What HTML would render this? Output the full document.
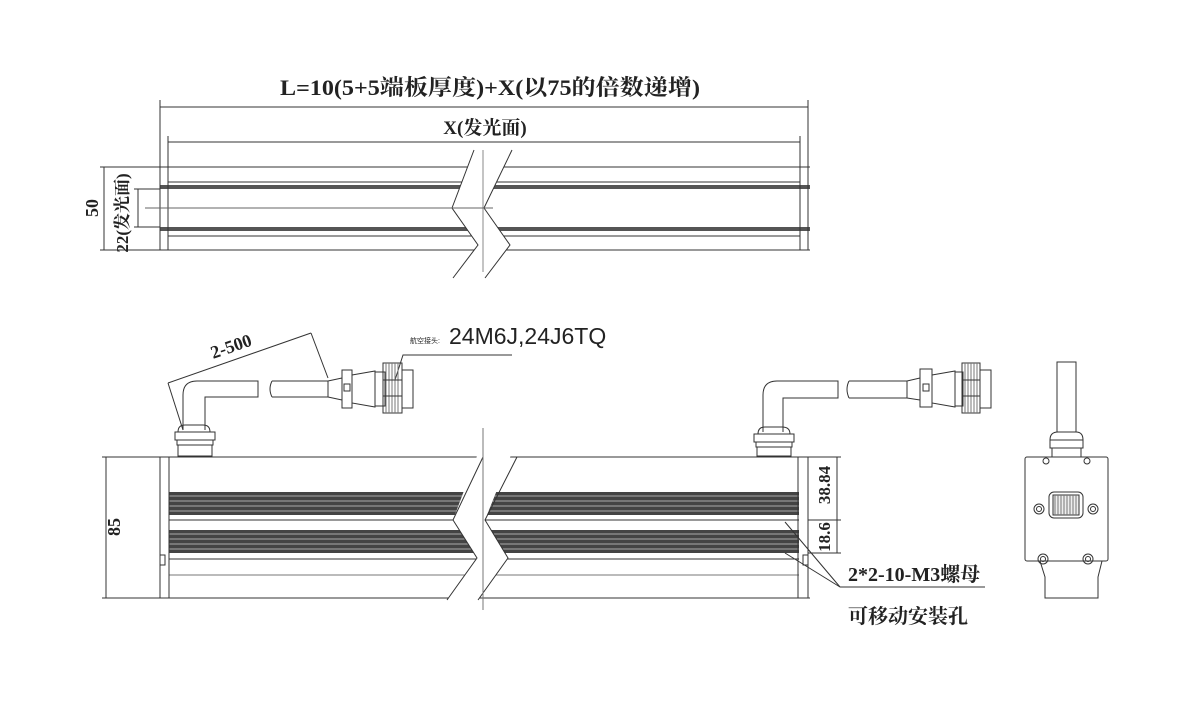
<!DOCTYPE html>
<html><head><meta charset="utf-8"><style>
html,body{margin:0;padding:0;background:#fff;}
svg{display:block;}
.t{font-family:"Liberation Serif","Noto Serif CJK SC",serif;font-weight:bold;fill:#222;}
.s{font-family:"Liberation Sans","Noto Sans CJK SC",sans-serif;fill:#222;}
</style></head><body>
<svg width="1203" height="707" viewBox="0 0 1203 707" xmlns="http://www.w3.org/2000/svg" fill="none" stroke="#333" stroke-width="1">
<defs>
<clipPath id="tl"><polygon points="150,150 474,150 452,208 478,245 453,280 150,280"/></clipPath>
<clipPath id="tr"><polygon points="512,150 820,150 820,280 485,280 510,245 484,208"/></clipPath>
<clipPath id="fl"><polygon points="150,440 483,440 453,520 477,558 447,600 150,600"/></clipPath>
<clipPath id="fr"><polygon points="517,440 820,440 820,610 478,600 508,558 485,520"/></clipPath>
<g id="tb">
<line x1="160" y1="167" x2="810" y2="167"/><line x1="160" y1="250" x2="810" y2="250"/>
<line x1="168" y1="182" x2="800" y2="182"/>
<rect x="160" y="185" width="650" height="4" fill="#555" stroke="none"/>
<rect x="160" y="227" width="650" height="4" fill="#555" stroke="none"/>
<line x1="168" y1="236" x2="800" y2="236"/>
</g>
<g id="fb">
<line x1="160" y1="457" x2="810" y2="457"/><line x1="160" y1="598" x2="810" y2="598"/>
<rect x="169" y="492" width="630" height="23" fill="#444" stroke="none"/>
<path d="M169,496H799M169,501H799M169,506H799M169,511H799" stroke="#aaa"/>
<line x1="169" y1="520" x2="799" y2="520"/>
<rect x="169" y="530" width="630" height="23" fill="#444" stroke="none"/>
<path d="M169,534H799M169,539H799M169,544H799M169,549H799" stroke="#aaa"/>
<line x1="169" y1="559" x2="799" y2="559"/>
<line x1="169" y1="575" x2="799" y2="575" stroke="#777"/>
</g>
</defs>
<!-- TOP VIEW -->
<text class="t" x="490" y="95" font-size="22" text-anchor="middle" textLength="420" lengthAdjust="spacingAndGlyphs" stroke="none">L=10(5+5端板厚度)+X(以75的倍数递增)</text>
<line x1="160" y1="107" x2="808" y2="107"/>
<line x1="160" y1="100" x2="160" y2="168"/><line x1="808" y1="100" x2="808" y2="168"/>
<text class="t" x="485" y="134" font-size="19" text-anchor="middle" stroke="none">X(发光面)</text>
<line x1="168" y1="142" x2="800" y2="142"/>
<line x1="168" y1="136" x2="168" y2="168"/><line x1="800" y1="136" x2="800" y2="168"/>
<g clip-path="url(#tl)"><use href="#tb"/></g>
<g clip-path="url(#tr)"><use href="#tb"/></g>
<line x1="160" y1="167" x2="160" y2="250"/><line x1="168" y1="167" x2="168" y2="250"/>
<line x1="800" y1="167" x2="800" y2="250"/><line x1="808" y1="167" x2="808" y2="250"/>
<polyline points="474,150 452,208 478,245 453,278"/>
<polyline points="512,150 484,208 510,245 485,278"/>
<line x1="483" y1="150" x2="483" y2="272" stroke="#888"/>
<line x1="145" y1="208" x2="493" y2="208" stroke="#666"/>
<line x1="104" y1="167" x2="104" y2="250"/>
<line x1="100" y1="167" x2="160" y2="167"/><line x1="100" y1="250" x2="160" y2="250"/>
<text class="t" x="98" y="208" font-size="18" text-anchor="middle" transform="rotate(-90 98 208)" stroke="none">50</text>
<line x1="138" y1="189" x2="138" y2="227"/>
<line x1="134" y1="189" x2="160" y2="189"/><line x1="134" y1="227" x2="160" y2="227"/>
<text class="t" x="128" y="213" font-size="17" text-anchor="middle" transform="rotate(-90 128 213)" stroke="none">22(发光面)</text>

<!-- FRONT VIEW -->
<text class="s" x="410" y="343" font-size="7" stroke="none">航空接头:</text>
<text class="s" x="449" y="344" font-size="23" stroke="none">24M6J,24J6TQ</text>
<polyline points="395,380 403,355 512,355"/>
<line x1="168" y1="383" x2="311" y2="333"/>
<line x1="168" y1="383" x2="183" y2="430"/><line x1="311" y1="333" x2="328" y2="378"/>
<text class="t" x="233" y="352" font-size="18" text-anchor="middle" transform="rotate(-19 233 352)" stroke="none">2-500</text>
<!-- left cable -->
<path d="M183,430 V395 Q183,381 197,381 H258 V397 H205 V430"/>
<path d="M178,432 Q178,425 185,425 H203 Q210,425 210,432 Z"/>
<rect x="175" y="432" width="40" height="8"/><rect x="177" y="440" width="36" height="5"/><rect x="178" y="445" width="34" height="11"/>
<path d="M272,381 H328 M272,397 H328 M272,381 Q268,389 272,397"/>
<path d="M328,381 L342,378 M328,397 L342,400 M328,381 V397"/>
<rect x="342" y="370" width="10" height="38"/><rect x="344" y="384" width="6" height="7"/>
<path d="M352,375 L375,371 V407 L352,403 Z"/>
<rect x="375" y="372" width="10" height="34"/>
<rect x="383" y="363" width="19" height="50"/>
<path d="M386,363V413M389,363V413M392,363V413M395,363V413M398,363V413" stroke="#777"/>
<line x1="383" y1="380" x2="402" y2="380"/><line x1="383" y1="396" x2="402" y2="396"/>
<rect x="402" y="370" width="11" height="38"/>
<!-- right cable -->
<path d="M763,432 V395 Q763,381 777,381 H838 V398 H783 V432"/>
<path d="M758,434 Q758,427 765,427 H782 Q790,427 790,434 Z"/>
<rect x="754" y="434" width="40" height="8"/><rect x="756" y="442" width="36" height="5"/><rect x="757" y="447" width="34" height="9"/>
<path d="M849,381 H907 M849,398 H907 M849,381 Q845,389 849,398"/>
<path d="M907,381 L920,378 M907,398 L920,400 M907,381 V398"/>
<rect x="920" y="369" width="12" height="38"/><rect x="923" y="384" width="6" height="7"/>
<path d="M932,375 L955,371 V407 L932,403 Z"/>
<rect x="955" y="372" width="8" height="34"/>
<rect x="962" y="363" width="18" height="50"/>
<path d="M965,363V413M968,363V413M971,363V413M974,363V413M977,363V413" stroke="#777"/>
<line x1="962" y1="380" x2="980" y2="380"/><line x1="962" y1="396" x2="980" y2="396"/>
<rect x="980" y="370" width="11" height="38"/>
<!-- bar -->
<g clip-path="url(#fl)"><use href="#fb"/></g>
<g clip-path="url(#fr)"><use href="#fb"/></g>
<line x1="160" y1="457" x2="160" y2="598"/><line x1="169" y1="457" x2="169" y2="598"/>
<line x1="798" y1="457" x2="798" y2="598"/><line x1="808" y1="457" x2="808" y2="598"/>
<rect x="160" y="555" width="5" height="10"/>
<rect x="803" y="555" width="5" height="10"/>
<polyline points="483,457 453,520 477,558 447,600"/>
<polyline points="517,457 485,520 508,558 478,600"/>
<line x1="483" y1="428" x2="483" y2="610" stroke="#777"/>
<!-- dims front -->
<line x1="106" y1="457" x2="106" y2="598"/>
<line x1="102" y1="457" x2="160" y2="457"/><line x1="102" y1="598" x2="160" y2="598"/>
<text class="t" x="120" y="527" font-size="18" text-anchor="middle" transform="rotate(-90 120 527)" stroke="none">85</text>
<line x1="837" y1="457" x2="837" y2="553"/>
<line x1="808" y1="457" x2="841" y2="457"/><line x1="808" y1="520" x2="841" y2="520"/><line x1="808" y1="553" x2="841" y2="553"/>
<text class="t" x="830" y="485" font-size="17" text-anchor="middle" transform="rotate(-90 830 485)" stroke="none">38.84</text>
<text class="t" x="830" y="537" font-size="17" text-anchor="middle" transform="rotate(-90 830 537)" stroke="none">18.6</text>
<line x1="785" y1="522" x2="840" y2="587"/><line x1="785" y1="553" x2="840" y2="587"/>
<line x1="840" y1="587" x2="985" y2="587"/>
<text class="t" x="848" y="581" font-size="20" stroke="none">2*2-10-M3螺母</text>
<text class="t" x="848" y="623" font-size="20" stroke="none">可移动安装孔</text>
<!-- SIDE VIEW -->
<path d="M1057,432 V362 H1076 V432"/>
<path d="M1050,440 Q1050,432 1058,432 H1076 Q1083,432 1083,440 Z"/>
<rect x="1050" y="440" width="33" height="8"/><rect x="1052" y="448" width="29" height="9"/>
<rect x="1025" y="457" width="83" height="104" rx="2"/>
<path d="M1040,561 L1045,577 V598 H1098 V577 L1102,561"/>
<rect x="1049" y="492" width="34" height="26" rx="5"/>
<rect x="1053" y="495" width="26" height="20" fill="#eee"/>
<path d="M1055,495V515M1058,495V515M1061,495V515M1064,495V515M1067,495V515M1070,495V515M1073,495V515M1076,495V515" stroke="#777"/>
<circle cx="1046" cy="461" r="3"/><circle cx="1087" cy="461" r="3"/>
<circle cx="1039" cy="509" r="5"/><circle cx="1039" cy="509" r="2.5"/>
<circle cx="1093" cy="509" r="5"/><circle cx="1093" cy="509" r="2.5"/>
<circle cx="1043" cy="559" r="5"/><circle cx="1043" cy="559" r="2.5"/>
<circle cx="1088" cy="559" r="5"/><circle cx="1088" cy="559" r="2.5"/>
</svg>
</body></html>
